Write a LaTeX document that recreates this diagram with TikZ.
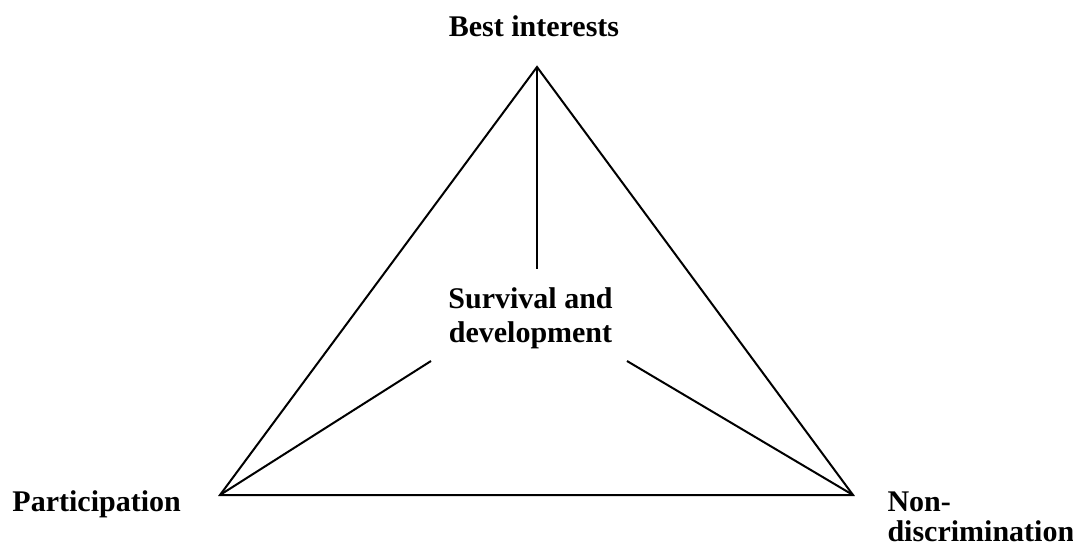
\documentclass[tikz,border=0pt]{standalone}
\usepackage{fontspec}
\setmainfont{Liberation Serif}
\begin{document}
\begin{tikzpicture}[x=0.4pt,y=-0.4pt]
\tikzstyle{principle}=[inner sep=0pt,font=\fontsize{12}{13.6}\selectfont\bfseries]
\tikzstyle{edge}=[line width=0.8pt,line join=miter]

\useasboundingbox (0,0) rectangle (1073,546);

% corners of the triangle
\coordinate (top) at (537,67);
\coordinate (left) at (220,495);
\coordinate (right) at (853,495);

% loose ends of the spokes
\coordinate (topEnd) at (537,269);
\coordinate (leftEnd) at (431,361);
\coordinate (rightEnd) at (627,361);

\node [principle,anchor=base] at (534,37) (best) {Best interests};
\node [principle,anchor=base] at (530.5,308) (survival) {Survival and};
\node [principle,anchor=base] at (530.5,342) (development) {development};
\node [principle,anchor=base west] at (12,511) (participation) {Participation};
\node [principle,anchor=base west] at (887,511) (non) {Non-};
\node [principle,anchor=base west] at (887,541) (discrimination) {discrimination};

\draw [edge] (top) -- (left) -- (right) -- cycle;
\draw [edge] (top) -- (topEnd);
\draw [edge] (left) -- (leftEnd);
\draw [edge] (right) -- (rightEnd);
\end{tikzpicture}
\end{document}
